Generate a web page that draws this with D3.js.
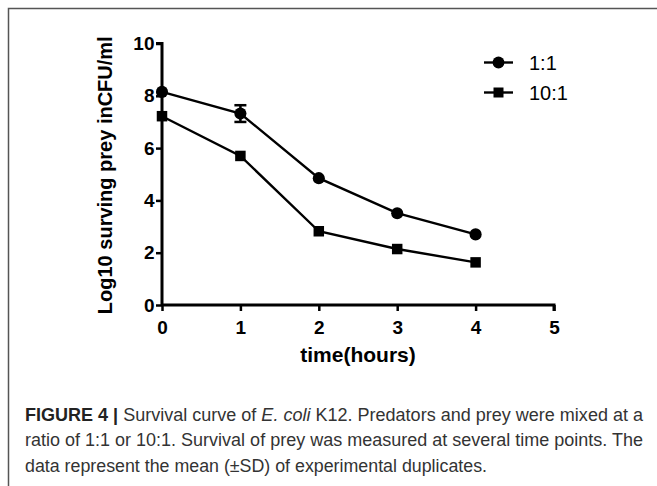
<!DOCTYPE html>
<html>
<head>
<meta charset="utf-8">
<script src="https://cdn.jsdelivr.net/npm/d3@7"></script>
<style>
  body { margin: 0; background: #fff; }
  svg { display: block; }
</style>
</head>
<body>
<div id="chart"></div>
<script>
// data
var hours = [0, 1, 2, 3, 4];
var ratio1 = [8.15, 7.32, 4.85, 3.51, 2.70];
var ratio1Sd = [0, 0.32, 0, 0, 0];
var ratio10 = [7.22, 5.70, 2.82, 2.14, 1.63];
var ratio10Sd = [0, 0, 0, 0, 0];
var seriesNames = ["1:1", "10:1"];
var xTicks = [0, 1, 2, 3, 4, 5];
var yTicks = [0, 2, 4, 6, 8, 10];

var W = 657, H = 486;

var svg = d3.select("#chart").append("svg")
  .attr("width", W)
  .attr("height", H);

// frame of the figure panel
svg.append("path")
  .attr("d", "M8.5," + H + "V8.5H" + W)
  .attr("fill", "none")
  .attr("stroke", "#555")
  .attr("stroke-width", 1.5);

var x = d3.scaleLinear().domain([0, 5]).range([162, 554]);
var y = d3.scaleLinear().domain([0, 10]).range([305, 43.5]);

var font = "Liberation Sans, Arial, sans-serif";

// axes
var xAxis = svg.append("g")
  .attr("transform", "translate(0," + y(0) + ")")
  .call(d3.axisBottom(x).tickValues(xTicks).tickSize(6).tickPadding(10).tickFormat(d3.format("d")));
var yAxis = svg.append("g")
  .attr("transform", "translate(" + x(0) + ",0)")
  .call(d3.axisLeft(y).tickValues(yTicks).tickSize(6).tickPadding(1.5).tickFormat(d3.format("d")));

[xAxis, yAxis].forEach(function(a) {
  a.select(".domain").attr("stroke", "#000").attr("stroke-width", 3);
  a.selectAll(".tick line").attr("stroke", "#000").attr("stroke-width", 2.5);
  a.selectAll(".tick text")
    .attr("fill", "#000")
    .style("font-family", font)
    .style("font-size", "19px")
    .style("font-weight", "bold");
});
xAxis.select(".domain").attr("d", "M" + x(0) + ",0H" + x(5) + "V6");
yAxis.select(".domain").attr("d", "M-6," + y(10) + "H0V" + y(0));

// axis titles
svg.append("text")
  .attr("transform", "translate(112," + ((y(0) + y(10)) / 2 + 1) + ") rotate(-90)")
  .attr("text-anchor", "middle")
  .style("font-family", font)
  .style("font-size", "20px")
  .style("font-weight", "bold")
  .text("Log10 surving prey inCFU/ml");

svg.append("text")
  .attr("x", 358)
  .attr("y", 362)
  .attr("text-anchor", "middle")
  .style("font-family", font)
  .style("font-size", "21px")
  .style("font-weight", "bold")
  .text("time(hours)");

// lines and markers
var series = [
  { name: seriesNames[0], values: ratio1, sd: ratio1Sd, shape: d3.symbolCircle },
  { name: seriesNames[1], values: ratio10, sd: ratio10Sd, shape: d3.symbolSquare }
];

var line = d3.line()
  .x(function(d, i) { return x(hours[i]); })
  .y(function(d) { return y(d); });

series.forEach(function(s) {
  svg.append("path")
    .datum(s.values)
    .attr("d", line)
    .attr("fill", "none")
    .attr("stroke", "#000")
    .attr("stroke-width", 2.4);

  // error bars
  s.values.forEach(function(v, i) {
    if (!s.sd[i]) return;
    var g = svg.append("g").attr("stroke", "#000").attr("stroke-width", 2.5);
    g.append("line").attr("x1", x(hours[i])).attr("x2", x(hours[i]))
      .attr("y1", y(v + s.sd[i])).attr("y2", y(v - s.sd[i]));
    [v + s.sd[i], v - s.sd[i]].forEach(function(e) {
      g.append("line").attr("x1", x(hours[i]) - 6).attr("x2", x(hours[i]) + 6)
        .attr("y1", y(e)).attr("y2", y(e));
    });
  });

  svg.selectAll(null)
    .data(s.values)
    .enter()
    .append("path")
      .attr("transform", function(d, i) { return "translate(" + x(hours[i]) + "," + y(d) + ")"; })
      .attr("d", d3.symbol().type(s.shape).size(s.shape === d3.symbolCircle ? 115 : 110))
      .attr("fill", "#000");
});

// legend
var legend = svg.append("g").attr("transform", "translate(484,62.5)");
series.forEach(function(s, i) {
  var g = legend.append("g").attr("transform", "translate(0," + (i * 30) + ")");
  g.append("line").attr("x1", 0).attr("x2", 29).attr("stroke", "#000").attr("stroke-width", 2.4);
  g.append("path")
    .attr("transform", "translate(14.5,0)")
    .attr("d", d3.symbol().type(s.shape).size(s.shape === d3.symbolCircle ? 110 : 100))
    .attr("fill", "#000");
  g.append("text")
    .attr("x", 45)
    .attr("y", 7)
    .style("font-family", font)
    .style("font-size", "20px")
    .text(s.name);
});

// caption
var cap = svg.append("g")
  .style("font-family", "'Liberation Sans', Arial, sans-serif")
  .style("font-size", "17.5px")
  .attr("fill", "#333");

var l1 = cap.append("text").attr("x", 25).attr("y", 420.5)
  .attr("textLength", 618).attr("lengthAdjust", "spacingAndGlyphs");
l1.append("tspan").style("font-weight", "bold").attr("fill", "#222").text("FIGURE 4 | ");
l1.append("tspan").text("Survival curve of ");
l1.append("tspan").style("font-style", "italic").text("E. coli");
l1.append("tspan").text(" K12. Predators and prey were mixed at a");

cap.append("text").attr("x", 25).attr("y", 446)
  .attr("textLength", 618).attr("lengthAdjust", "spacingAndGlyphs")
  .text("ratio of 1:1 or 10:1. Survival of prey was measured at several time points. The");

cap.append("text").attr("x", 25).attr("y", 472)
  .attr("textLength", 462).attr("lengthAdjust", "spacingAndGlyphs")
  .text("data represent the mean (\u00b1SD) of experimental duplicates.");
</script>
</body>
</html>
